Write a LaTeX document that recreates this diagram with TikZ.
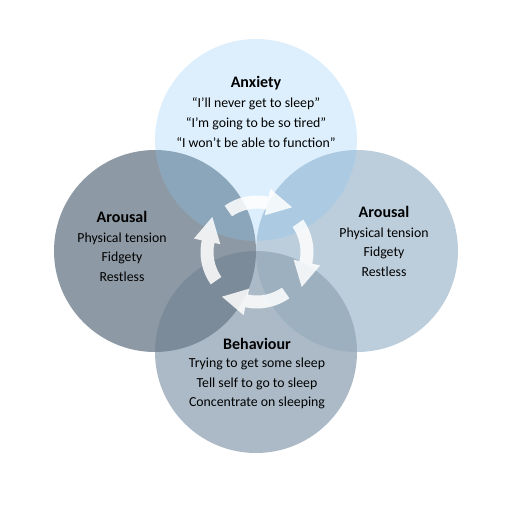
\documentclass[tikz,border=0pt]{standalone}
\usepackage{fontspec}
\setmainfont{Carlito}
\usetikzlibrary{calc}
\definecolor{anxblue}{HTML}{86C6F4}
\definecolor{arlgray}{HTML}{71808E}
\definecolor{arrblue}{HTML}{BCCEDC}
\definecolor{behgray}{HTML}{96A9B8}

\begin{document}
\begin{tikzpicture}[x=1pt,y=-1pt,
  bubble/.style={circle,minimum size=202pt,inner sep=0pt},
  headtxt/.style={font=\fontsize{16}{19}\selectfont\bfseries},
  bodytxt/.style={align=center,font=\fontsize{13.8}{19.6}\selectfont},
  cycarrow/.style={fill=white,fill opacity=.85}]
  \useasboundingbox (0,0) rectangle (513,513);

  % circles
  \node[bubble,fill=arrblue] (arr) at (357,251) {};
  \node[bubble,fill=behgray,fill opacity=.8] (beh) at (256,352) {};
  \node[bubble,fill=arlgray,fill opacity=.8] (arl) at (155,251) {};
  \node[bubble,fill=anxblue,fill opacity=.28] (anx) at (256,140) {};

  % texts
  \node[headtxt] (anxhead) at (256,83) {Anxiety};
  \node[bodytxt] (anxbody) at (256,122.5) {“I’ll never get to sleep”\\“I’m going to be so tired”\\“I won’t be able to function”};
  \node[headtxt] (arlhead) at (122,217) {Arousal};
  \node[bodytxt] (arlbody) at (122,257) {Physical tension\\Fidgety\\Restless};
  \node[headtxt] (arrhead) at (384,212) {Arousal};
  \node[bodytxt] (arrbody) at (384,252) {Physical tension\\Fidgety\\Restless};
  \node[headtxt] (behhead) at (257,344) {Behaviour};
  \node[bodytxt] (behbody) at (257,383.5) {Trying to get some sleep\\Tell self to go to sleep\\Concentrate on sleeping};

  % cycle
  \coordinate (cyc) at (257,252);
  \foreach \a in {125,35,-55,-145}
    \fill[cycarrow,shift={(cyc)},rotate=\a]
      (0:56.5) arc[start angle=0,end angle=47,radius=56.5] -- (47:64.5)
      -- ($(47:51)+(137:25)$) -- (47:37.5) -- (47:43.5)
      arc[start angle=47,end angle=0,radius=43.5] -- cycle;
\end{tikzpicture}
\end{document}
